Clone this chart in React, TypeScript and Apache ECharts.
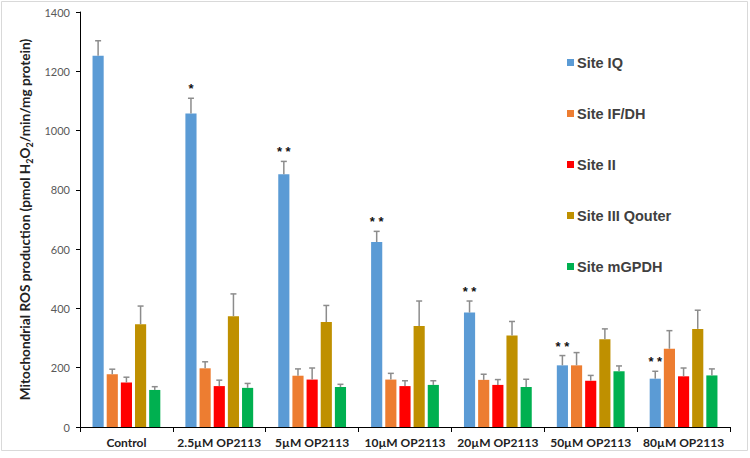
import React, { useEffect, useRef } from "react";
import * as echarts from "echarts";

const categories = ["Control", "2.5µM OP2113", "5µM OP2113", "10µM OP2113", "20µM OP2113", "50µM OP2113", "80µM OP2113"];
const seriesNames = ["Site IQ", "Site IF/DH", "Site II", "Site III Qouter", "Site mGPDH"];
const seriesColors = ["#5B9BD5", "#ED7D31", "#FF0000", "#BF9000", "#00B050"];

const siteIQ = [1252, 1058, 853, 624, 386, 208, 163];
const siteIFDH = [178, 198, 173, 160, 159, 208, 264];
const siteII = [150, 138, 160, 138, 142, 156, 171];
const siteIII = [347, 374, 354, 341, 309, 296, 331];
const siteMGPDH = [125, 132, 135, 142, 135, 188, 174];

const errIQ = [51, 51, 43, 36, 39, 33, 25];
const errIFDH = [17, 22, 23, 21, 19, 43, 61];
const errII = [18, 20, 39, 18, 18, 18, 28];
const errIII = [61, 75, 56, 84, 47, 35, 63];
const errMGPDH = [11, 15, 9, 14, 26, 18, 22];

const sigIQ = ["", "*", "**", "**", "**", "**", "**"];

const yTicks = { min: 0, max: 1400, interval: 200 };

const values = [siteIQ, siteIFDH, siteII, siteIII, siteMGPDH];
const errors = [errIQ, errIFDH, errII, errIII, errMGPDH];

const CAT_GAP = 0.27;
const BAR_GAP = 0.27;

export default function App() {
  const ref = useRef<HTMLDivElement>(null);
  useEffect(() => {
    if (!ref.current) return;
    const chart = echarts.init(ref.current, null, { renderer: "svg" });
    const n = seriesNames.length;
    const barSeries = seriesNames.map((name, si) => ({
      type: "bar",
      name,
      data: values[si],
      barGap: `${BAR_GAP * 100}%`,
      barCategoryGap: `${CAT_GAP * 100}%`,
      itemStyle: { color: seriesColors[si] },
      z: 2,
    }));
    const errSeries = seriesNames.map((name, si) => ({
      type: "custom",
      name: name + " err",
      z: 3,
      clip: false,
      encode: { x: 0, y: 1 },
      data: values[si].map((v, i) => [i, v, errors[si][i]]),
      renderItem: (params: any, api: any) => {
        const cat = api.value(0);
        const v = api.value(1);
        const e = api.value(2);
        const base = api.coord([cat, v]);
        const top = api.coord([cat, v + e]);
        const band = api.size([1, 0])[0];
        const groupW = band * (1 - CAT_GAP);
        const w = groupW / (n + (n - 1) * BAR_GAP);
        const x = base[0] - groupW / 2 + w / 2 + si * w * (1 + BAR_GAP);
        const children: any[] = [
          { type: "line", shape: { x1: x, y1: base[1], x2: x, y2: top[1] }, style: { stroke: "#8c8c8c", lineWidth: 1.5 } },
          { type: "line", shape: { x1: x - 3, y1: top[1], x2: x + 3, y2: top[1] }, style: { stroke: "#8c8c8c", lineWidth: 1.5 } },
        ];
        if (si === 0 && sigIQ[cat]) {
          children.push({
            type: "text",
            style: {
              text: sigIQ[cat].split("").join(" "),
              x: x,
              y: top[1] - 3,
              align: "center",
              verticalAlign: "bottom",
              font: "bold 13px Liberation Sans",
              fill: "#111",
            },
          });
        }
        return { type: "group", children };
      },
    }));
    chart.setOption({
      animation: false,
      backgroundColor: "#ffffff",
      grid: { left: 80, right: 20, top: 12, bottom: 31, containLabel: false },
      legend: {
        data: seriesNames,
        orient: "vertical",
        left: 562,
        top: 50,
        itemWidth: 7,
        itemHeight: 7,
        itemGap: 36,
        icon: "rect",
        textStyle: { fontFamily: "Liberation Sans", fontWeight: "bold", fontSize: 14.5, color: "#404040", lineHeight: 15, padding: [0, 0, 0, -2] },
      },
      xAxis: {
        type: "category",
        data: categories,
        axisLine: { lineStyle: { color: "#000", width: 1 } },
        axisTick: { show: true, length: 5, alignWithLabel: false, lineStyle: { color: "#000" } },
        axisLabel: { fontFamily: "Lato", fontWeight: "bold", fontSize: 12, color: "#222", margin: 9, interval: 0 },
      },
      yAxis: {
        type: "value",
        min: yTicks.min,
        max: yTicks.max,
        interval: yTicks.interval,
        name: "Mitochondrial ROS production (pmol H{sub|2}O{sub|2}/min/mg protein)",
        nameLocation: "middle",
        nameGap: 37,
        nameTextStyle: {
          fontFamily: "Lato",
          fontWeight: "bold",
          fontSize: 13.6,
          color: "#222",
          lineHeight: 17,
          rich: {
            sub: { fontFamily: "Lato", fontWeight: "bold", fontSize: 9, color: "#222", verticalAlign: "bottom", lineHeight: 17 },
          },
        },
        splitLine: { show: false },
        axisLine: { show: true, lineStyle: { color: "#000", width: 1 } },
        axisTick: { show: true, length: 4, lineStyle: { color: "#000" } },
        axisLabel: { fontFamily: "Lato", fontSize: 11, color: "#595959", margin: 10, formatter: (v: number) => String(v) },
      },
      graphic: [
        { type: "rect", shape: { x: 1.5, y: 1.5, width: 746, height: 449 }, style: { fill: "none", stroke: "#d9d9d9", lineWidth: 1 }, silent: true, z: 0 },
      ],
      series: [...barSeries, ...errSeries],
    });
    return () => chart.dispose();
  }, []);
  return <div ref={ref} style={{ position: "fixed", left: 0, top: 0, width: 750, height: 458 }} />;
}
